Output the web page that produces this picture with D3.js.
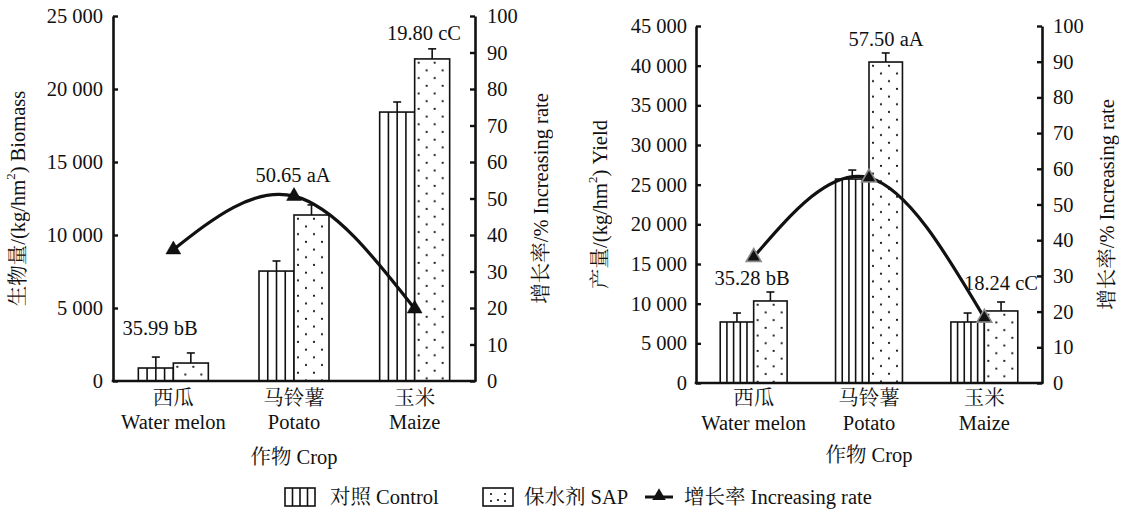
<!DOCTYPE html>
<html>
<head>
<meta charset="utf-8">
<script src="https://cdn.jsdelivr.net/npm/d3@7/dist/d3.min.js"></script>
<style>
  html, body { margin: 0; padding: 0; background: #ffffff; }
  svg { display: block; }
  svg text { opacity: 0.999; }
</style>
</head>
<body>
<svg id="chart" width="1128" height="511"></svg>
<script>
// ---------------- data ----------------
const crops = ["西瓜", "马铃薯", "玉米"];
const cropsEn = ["Water melon", "Potato", "Maize"];

const biomassControl = [890, 7530, 18420];
const biomassControlErr = [750, 690, 690];
const biomassSAP = [1230, 11370, 22060];
const biomassSAPErr = [690, 690, 690];
const biomassRate = [35.99, 50.65, 19.80];
const biomassRateLabels = ["35.99 bB", "50.65 aA", "19.80 cC"];

const yieldControl = [7690, 25710, 7690];
const yieldControlErr = [1130, 1130, 1130];
const yieldSAP = [10340, 40460, 9080];
const yieldSAPErr = [1130, 1140, 1130];
const yieldRate = [35.28, 57.50, 18.24];
const yieldRateLabels = ["35.28 bB", "57.50 aA", "18.24 cC"];

const biomassTicks = [0, 5000, 10000, 15000, 20000, 25000];
const yieldTicks = [0, 5000, 10000, 15000, 20000, 25000, 30000, 35000, 40000, 45000];
const rateTicks = [0, 10, 20, 30, 40, 50, 60, 70, 80, 90, 100];

const legendLabels = ["对照 Control", "保水剂 SAP", "增长率 Increasing rate"];
const xTitle = "作物 Crop";

// ---------------- layout ----------------
const FONT = '"Liberation Serif", "Times New Roman", Tinos, "DejaVu Serif", "Noto Serif CJK SC", "Noto Sans CJK SC", serif';
const svg = d3.select("#chart").attr("font-family", FONT);
const FS = 20.5;
const locale = d3.formatLocale({ decimal: ".", thousands: " ", grouping: [3], currency: ["", ""] });
const fmt = v => v >= 1000 ? locale.format(",")(v) : String(v);

const charts = [
  {
    id: "bio", x0: 113, x1: 475, yTop: 16, yBottom: 381,
    ticks: biomassTicks, control: biomassControl, controlErr: biomassControlErr,
    sap: biomassSAP, sapErr: biomassSAPErr, rate: biomassRate, rateLabels: biomassRateLabels,
    titleMain: "生物量/(kg/hm", titleEnd: ") Biomass",
    leftTitleX: 18, rightTitleX: 541,
    labelPos: [[160, 335], [293, 182], [424, 40]],
    stripes: 4, markerStroke: "#000", xLabY: [405, 429], cropY: 464,
    padL: 10, padR: 12
  },
  {
    id: "yld", x0: 696, x1: 1042, yTop: 26, yBottom: 383,
    ticks: yieldTicks, control: yieldControl, controlErr: yieldControlErr,
    sap: yieldSAP, sapErr: yieldSAPErr, rate: yieldRate, rateLabels: yieldRateLabels,
    titleMain: "产量/(kg/hm", titleEnd: ") Yield",
    leftTitleX: 600, rightTitleX: 1107,
    labelPos: [[752, 285], [886, 46], [1001, 290]],
    stripes: 5, markerStroke: "#8a8a8a", xLabY: [405, 430], cropY: 462,
    padL: 9, padR: 11
  }
];

const defs = svg.append("defs");

function dotPattern(id, x, y) {
  const p = defs.append("pattern").attr("id", id)
    .attr("patternUnits", "userSpaceOnUse")
    .attr("x", x).attr("y", y).attr("width", 16).attr("height", 15.4);
  p.append("rect").attr("width", 16).attr("height", 15.4).attr("fill", "#fff");
  p.append("circle").attr("cx", 4).attr("cy", 3.8).attr("r", 1.1).attr("fill", "#111");
  p.append("circle").attr("cx", 12).attr("cy", 11.5).attr("r", 1.1).attr("fill", "#111");
}

function stripedBar(g, x, y, w, h, n) {
  g.append("rect").attr("x", x).attr("y", y).attr("width", w).attr("height", h)
    .attr("fill", "#fff").attr("stroke", "#111").attr("stroke-width", 1.6);
  for (let k = 1; k < n; k++) {
    const lx = x + w * k / n;
    g.append("line").attr("x1", lx).attr("x2", lx).attr("y1", y).attr("y2", y + h)
      .attr("stroke", "#111").attr("stroke-width", 1.6);
  }
}

function txt(g, x, y, s, anchor) {
  return g.append("text").attr("x", x).attr("y", y).attr("text-anchor", anchor || "middle")
    .attr("font-size", FS).attr("font-family", FONT).attr("fill", "#111").text(s);
}

charts.forEach(c => {
  const g = svg.append("g");
  const yMax = c.ticks[c.ticks.length - 1];
  const y = d3.scaleLinear().domain([0, yMax]).range([c.yBottom, c.yTop]);
  const yR = d3.scaleLinear().domain([0, 100]).range([c.yBottom, c.yTop]);
  const x = d3.scaleBand().domain(crops).range([c.x0, c.x1]).paddingInner(0.42).paddingOuter(0.21);
  const xs = d3.scaleBand().domain(["control", "sap"]).range([0, x.bandwidth()]);

  // bars
  crops.forEach((cr, i) => {
    const bx = x(cr) + xs("control"), bw = xs.bandwidth();
    const top = y(c.control[i]);
    const cx = bx + bw / 2, et = y(c.control[i] + c.controlErr[i]);
    g.append("line").attr("x1", cx).attr("x2", cx).attr("y1", top).attr("y2", et).attr("stroke", "#111").attr("stroke-width", 1.6);
    g.append("line").attr("x1", cx - 4).attr("x2", cx + 4).attr("y1", et).attr("y2", et).attr("stroke", "#111").attr("stroke-width", 1.6);
    stripedBar(g, bx, top, bw, c.yBottom - top, c.stripes);

    const sx = x(cr) + xs("sap");
    const stop = y(c.sap[i]);
    const scx = sx + bw / 2, set = y(c.sap[i] + c.sapErr[i]);
    g.append("line").attr("x1", scx).attr("x2", scx).attr("y1", stop).attr("y2", set).attr("stroke", "#111").attr("stroke-width", 1.6);
    g.append("line").attr("x1", scx - 4).attr("x2", scx + 4).attr("y1", set).attr("y2", set).attr("stroke", "#111").attr("stroke-width", 1.6);
    const pid = `dots-${c.id}-${i}`;
    dotPattern(pid, sx, stop);
    g.append("rect").attr("x", sx).attr("y", stop).attr("width", bw).attr("height", c.yBottom - stop)
      .attr("fill", `url(#${pid})`).attr("stroke", "#111").attr("stroke-width", 1.6);
  });

  // axes
  const axL = d3.axisLeft(y).tickValues(c.ticks).tickFormat(fmt).tickSizeInner(-5).tickSizeOuter(0).tickPadding(c.padL);
  const gl = g.append("g").attr("transform", `translate(${c.x0},0)`).call(axL);
  const axR = d3.axisRight(yR).tickValues(rateTicks).tickFormat(d => String(d)).tickSizeInner(-5).tickSizeOuter(0).tickPadding(c.padR);
  const gr = g.append("g").attr("transform", `translate(${c.x1},0)`).call(axR);
  [gl, gr].forEach(a => {
    a.attr("font-family", FONT).attr("font-size", FS);
    a.select(".domain").attr("stroke", "#111").attr("stroke-width", 2.6);
    a.selectAll(".tick line").attr("stroke", "#111").attr("stroke-width", 2.4);
    a.selectAll(".tick text").attr("font-size", FS).attr("fill", "#111").attr("font-family", FONT);
  });
  g.append("line").attr("x1", c.x0 - 1.3).attr("x2", c.x1 + 1.3).attr("y1", c.yBottom).attr("y2", c.yBottom)
    .attr("stroke", "#111").attr("stroke-width", 2.6);

  // line + markers
  const line = d3.line().x((d, i) => x(crops[i]) + x.bandwidth() / 2).y(d => yR(d)).curve(d3.curveNatural);
  g.append("path").attr("d", line(c.rate)).attr("fill", "none").attr("stroke", "#111").attr("stroke-width", 3.2);
  const tri = d3.symbol().type(d3.symbolTriangle).size(95);
  c.rate.forEach((v, i) => {
    g.append("path").attr("d", tri())
      .attr("transform", `translate(${x(crops[i]) + x.bandwidth() / 2},${yR(v)})`)
      .attr("fill", "#111").attr("stroke", c.markerStroke).attr("stroke-width", c.markerStroke === "#000" ? 0.5 : 1.6);
  });

  // value labels
  c.rateLabels.forEach((t, i) => txt(g, c.labelPos[i][0], c.labelPos[i][1], t));

  // x category labels
  crops.forEach((cr, i) => {
    const cx = x(cr) + x.bandwidth() / 2;
    txt(g, cx, c.xLabY[0], cr);
    txt(g, cx, c.xLabY[1], cropsEn[i]);
  });
  txt(g, (c.x0 + c.x1) / 2, c.cropY, xTitle);

  // axis titles
  const yc = (c.yTop + c.yBottom) / 2;
  const tl = g.append("text").attr("transform", `translate(${c.leftTitleX},${yc}) rotate(-90)`)
    .attr("text-anchor", "middle").attr("dominant-baseline", "central").attr("font-size", FS)
    .attr("font-family", FONT).attr("fill", "#111");
  tl.append("tspan").text(c.titleMain);
  tl.append("tspan").attr("baseline-shift", "super").attr("font-size", 13).text("2");
  tl.append("tspan").text(c.titleEnd);
  g.append("text").attr("transform", `translate(${c.rightTitleX},${yc}) rotate(-90)`)
    .attr("text-anchor", "middle").attr("dominant-baseline", "central").attr("font-size", FS)
    .attr("font-family", FONT).attr("fill", "#111")
    .text("增长率/% Increasing rate");
});

// ---------------- legend ----------------
const lg = svg.append("g");
const ly = 497;
stripedBar(lg, 285, ly - 9, 30, 18, 4);
txt(lg, 330, ly + 7, legendLabels[0], "start");
lg.append("rect").attr("x", 483).attr("y", ly - 9).attr("width", 30).attr("height", 18)
  .attr("fill", "#fff").attr("stroke", "#111").attr("stroke-width", 1.6);
[[491, ly - 3], [498, ly + 3], [505, ly - 3], [491, ly + 4], [505, ly + 4]].forEach(p => {
  lg.append("circle").attr("cx", p[0]).attr("cy", p[1]).attr("r", 1.1).attr("fill", "#111");
});
txt(lg, 524, ly + 7, legendLabels[1], "start");
lg.append("line").attr("x1", 645).attr("x2", 673).attr("y1", ly).attr("y2", ly).attr("stroke", "#111").attr("stroke-width", 3);
lg.append("path").attr("d", d3.symbol().type(d3.symbolTriangle).size(80)()).attr("transform", `translate(659,${ly - 1})`).attr("fill", "#111");
txt(lg, 684, ly + 7, legendLabels[2], "start");
</script>
</body>
</html>
